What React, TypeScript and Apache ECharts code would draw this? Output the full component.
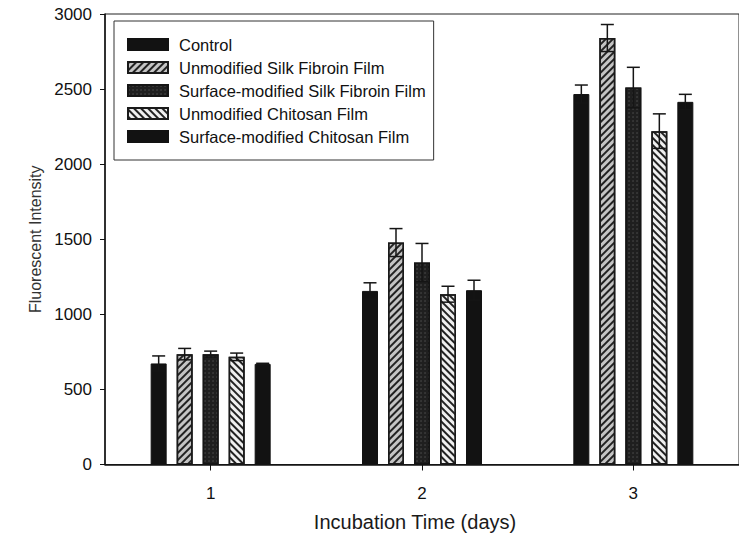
import React, { useEffect, useRef } from "react";
import * as echarts from "echarts";

const days = ["1", "2", "3"];
const seriesNames = [
  "Control",
  "Unmodified Silk Fibroin Film",
  "Surface-modified Silk Fibroin Film",
  "Unmodified Chitosan Film",
  "Surface-modified Chitosan Film",
];
const control = [673, 1156, 2467];
const controlErr = [50, 54, 60];
const unmodSilk = [735, 1478, 2840];
const unmodSilkErr = [38, 93, 90];
const surfSilk = [735, 1345, 2510];
const surfSilkErr = [20, 127, 135];
const unmodChitosan = [717, 1134, 2220];
const unmodChitosanErr = [25, 53, 115];
const surfChitosan = [670, 1161, 2415];
const surfChitosanErr = [4, 66, 50];
const yTicks = [0, 500, 1000, 1500, 2000, 2500, 3000];

const BAR_W = 16;
const BAR_GAP = 10;
const FONT = "Liberation Sans, Arial, sans-serif";

export default function App() {
  const ref = useRef<HTMLDivElement>(null);
  useEffect(() => {
    if (!ref.current) return;
    const chart = echarts.init(ref.current, null, { renderer: "svg" });
    const values = [control, unmodSilk, surfSilk, unmodChitosan, surfChitosan];
    const errs = [controlErr, unmodSilkErr, surfSilkErr, unmodChitosanErr, surfChitosanErr];
    const styles: any[] = [
      { color: "#121212", borderColor: "#121212", borderWidth: 1 },
      {
        color: "#c4c4c4",
        borderColor: "#1a1a1a",
        borderWidth: 1.5,
        decal: { symbol: "rect", symbolSize: 1, dashArrayX: [1, 0], dashArrayY: [2, 3], rotation: -Math.PI / 4, color: "#222" },
      },
      {
        color: "#1f1f1f",
        borderColor: "#151515",
        borderWidth: 1.5,
        decal: { symbol: "circle", symbolSize: 0.6, dashArrayX: [2, 2], dashArrayY: [2, 2], rotation: 0, color: "#5a5a5a" },
      },
      {
        color: "#efefef",
        borderColor: "#1a1a1a",
        borderWidth: 1.5,
        decal: { symbol: "rect", symbolSize: 1, dashArrayX: [1, 0], dashArrayY: [2, 3], rotation: Math.PI / 4, color: "#222" },
      },
      { color: "#121212", borderColor: "#121212", borderWidth: 1 },
    ];
    const barSeries = seriesNames.map((name, i) => ({
      name,
      type: "bar",
      data: values[i],
      barWidth: BAR_W,
      barGap: `${(BAR_GAP / BAR_W) * 100}%`,
      itemStyle: styles[i],
      z: 2,
    }));
    const errData: number[][] = [];
    values.forEach((vals, k) => {
      vals.forEach((v, c) => errData.push([c, v, errs[k][c], k]));
    });
    const n = seriesNames.length;
    const errSeries = {
      type: "custom",
      name: "err",
      z: 5,
      data: errData,
      renderItem: (params: any, api: any) => {
        const c = api.value(0);
        const v = api.value(1);
        const e = api.value(2);
        const k = api.value(3);
        const top = api.coord([c, v + e]);
        const bot = api.coord([c, v - e]);
        const cx = top[0] + (k - (n - 1) / 2) * (BAR_W + BAR_GAP);
        const hw = 6.5;
        const st = { stroke: "#151515", lineWidth: 1.5 };
        return {
          type: "group",
          children: [
            { type: "line", shape: { x1: cx, y1: top[1], x2: cx, y2: bot[1] }, style: st },
            { type: "line", shape: { x1: cx - hw, y1: top[1], x2: cx + hw, y2: top[1] }, style: st },
            { type: "line", shape: { x1: cx - hw, y1: bot[1], x2: cx + hw, y2: bot[1] }, style: st },
          ],
        };
      },
    };
    chart.setOption({
      animation: false,
      backgroundColor: "#ffffff",
      grid: {
        left: 105,
        top: 14,
        right: -8,
        bottom: 84.5,
        show: true,
        borderColor: "#222",
        borderWidth: 1,
        backgroundColor: "transparent",
      },
      legend: {
        orient: "vertical",
        left: 114,
        top: 21,
        data: seriesNames,
        icon: "rect",
        itemWidth: 40,
        itemHeight: 11,
        itemGap: 6,
        padding: [15, 8, 15, 13],
        borderColor: "#333",
        borderWidth: 1,
        backgroundColor: "#fff",
        textStyle: { fontFamily: FONT, fontSize: 16.5, color: "#111", lineHeight: 16, padding: [0, 0, 0, 6] },
      },
      xAxis: {
        type: "category",
        data: days,
        name: "Incubation Time (days)",
        nameLocation: "middle",
        nameGap: 47,
        nameTextStyle: { fontFamily: FONT, fontSize: 20, color: "#1a1a1a", padding: [0, 14, 0, 0] },
        axisLine: { show: true, lineStyle: { color: "#111", width: 1.5 } },
        axisTick: { show: true, alignWithLabel: true, length: 6, lineStyle: { color: "#111" } },
        axisLabel: { fontFamily: FONT, fontSize: 17, color: "#111", margin: 20 },
        splitLine: { show: false },
      },
      yAxis: {
        type: "value",
        min: yTicks[0],
        max: yTicks[yTicks.length - 1],
        interval: yTicks[1] - yTicks[0],
        name: "Fluorescent Intensity",
        nameLocation: "middle",
        nameGap: 53,
        nameTextStyle: { fontFamily: FONT, fontSize: 16, color: "#333" },
        axisLine: { show: true, lineStyle: { color: "#111", width: 1.5 } },
        axisTick: { show: true, length: 5, lineStyle: { color: "#111" } },
        axisLabel: { fontFamily: FONT, fontSize: 17, color: "#111", margin: 13, formatter: (v: number) => String(v) },
        splitLine: { show: false },
      },
      series: [...barSeries, errSeries],
    });
    return () => chart.dispose();
  }, []);
  return <div ref={ref} style={{ width: 739, height: 549, position: "absolute", left: 0, top: 0 }} />;
}
